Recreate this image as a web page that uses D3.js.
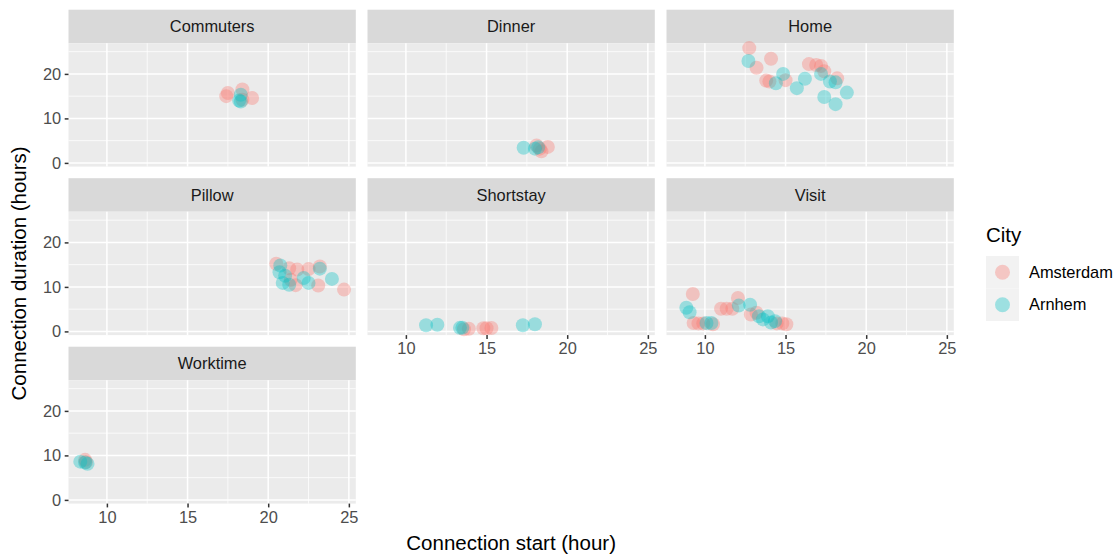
<!DOCTYPE html>
<html>
<head>
<meta charset="utf-8">
<script src="https://cdn.jsdelivr.net/npm/d3@7"></script>
<style>
  html, body { margin: 0; padding: 0; background: #ffffff; }
  svg { display: block; font-family: "Liberation Sans", Arial, Helvetica, sans-serif; }
</style>
</head>
<body>
<svg id="chart" width="1117" height="556"></svg>
<script>
// Facet panels, in reading order
const facets = ["Commuters", "Dinner", "Home", "Pillow", "Shortstay", "Visit", "Worktime"];
const cities = ["Amsterdam", "Arnhem"];
const cityColors = ["#F8766D", "#00BFC4"];

const xTicks = [10, 15, 20, 25];
const yTicks = [0, 10, 20];

// [facet, connection start (hour), connection duration (hours)]
const amsterdam = [
  ["Commuters", 17.4, 15.0], ["Commuters", 17.5, 15.7], ["Commuters", 18.4, 16.5],
  ["Commuters", 19.0, 14.6], ["Commuters", 18.4, 14.2],
  ["Dinner", 18.1, 3.9], ["Dinner", 18.4, 2.6], ["Dinner", 18.8, 3.6], ["Dinner", 18.3, 3.2],
  ["Home", 12.75, 25.8], ["Home", 14.1, 23.4], ["Home", 13.2, 21.4], ["Home", 13.8, 18.5],
  ["Home", 14.0, 18.3], ["Home", 15.0, 18.6], ["Home", 16.45, 22.2], ["Home", 16.9, 22.0],
  ["Home", 17.2, 21.8], ["Home", 17.4, 20.6], ["Home", 18.2, 19.0],
  ["Pillow", 20.5, 15.2], ["Pillow", 21.3, 14.2], ["Pillow", 21.8, 13.9], ["Pillow", 22.5, 14.0],
  ["Pillow", 23.2, 14.6], ["Pillow", 24.7, 9.4], ["Pillow", 23.1, 10.3], ["Pillow", 21.7, 10.4],
  ["Pillow", 21.4, 11.6],
  ["Shortstay", 13.6, 0.5], ["Shortstay", 13.9, 0.6], ["Shortstay", 14.8, 0.7],
  ["Shortstay", 15.0, 0.7], ["Shortstay", 15.3, 0.75],
  ["Visit", 9.25, 8.4], ["Visit", 9.3, 1.9], ["Visit", 9.6, 1.8], ["Visit", 9.9, 1.8],
  ["Visit", 10.5, 1.6], ["Visit", 11.0, 5.1], ["Visit", 11.35, 5.1], ["Visit", 11.7, 5.1],
  ["Visit", 12.05, 7.5], ["Visit", 12.85, 3.8], ["Visit", 13.2, 4.2], ["Visit", 14.45, 1.8],
  ["Visit", 14.8, 1.8], ["Visit", 15.05, 1.6],
  ["Worktime", 8.65, 9.0], ["Worktime", 8.7, 8.5]
];

const arnhem = [
  ["Commuters", 18.3, 15.3], ["Commuters", 18.3, 13.8], ["Commuters", 18.2, 14.0],
  ["Dinner", 17.3, 3.4], ["Dinner", 18.2, 3.5], ["Dinner", 18.0, 3.2],
  ["Home", 12.7, 22.9], ["Home", 14.4, 17.9], ["Home", 14.85, 20.0], ["Home", 15.7, 16.8],
  ["Home", 16.2, 18.9], ["Home", 17.2, 20.0], ["Home", 17.4, 14.8], ["Home", 17.75, 18.3],
  ["Home", 18.1, 18.1], ["Home", 18.1, 13.2], ["Home", 18.8, 15.8],
  ["Pillow", 20.75, 14.8], ["Pillow", 20.7, 13.3], ["Pillow", 23.2, 14.1], ["Pillow", 23.95, 11.8],
  ["Pillow", 22.5, 10.9], ["Pillow", 22.2, 12.0], ["Pillow", 20.9, 10.9], ["Pillow", 21.3, 10.5],
  ["Pillow", 21.05, 12.5],
  ["Shortstay", 11.25, 1.4], ["Shortstay", 11.95, 1.5], ["Shortstay", 13.35, 0.8],
  ["Shortstay", 13.5, 0.8], ["Shortstay", 17.25, 1.4], ["Shortstay", 18.0, 1.6],
  ["Visit", 8.85, 5.3], ["Visit", 9.05, 4.3], ["Visit", 10.1, 1.9], ["Visit", 10.4, 1.9],
  ["Visit", 12.1, 5.8], ["Visit", 12.8, 6.0], ["Visit", 13.35, 3.4], ["Visit", 13.6, 2.7],
  ["Visit", 13.9, 3.4], ["Visit", 14.1, 2.0], ["Visit", 14.35, 2.3],
  ["Worktime", 8.35, 8.6], ["Worktime", 8.8, 8.1], ["Worktime", 8.65, 8.4]
];

const seriesData = [amsterdam, arnhem];

// Layout of the facet grid
const nCols = 3;
const panelLeft = 68.5, panelTop = 43.2;
const panelW = 287.3, panelH = 123.4;
const colPitch = 299, rowPitch = 168.5;
const stripH = 33.5;

const baseFont = "16.4px", titleFont = "20.5px";
const tickLen = 3.8, pointR = 7;

const x = d3.scaleLinear().domain([7.62, 25.43]).range([0, panelW]);
const y = d3.scaleLinear().domain([-0.83, 26.9]).range([panelH, 0]);

const svg = d3.select("#chart");

const panelPos = (i) => ({
  col: i % nCols,
  row: Math.floor(i / nCols),
  x0: panelLeft + (i % nCols) * colPitch,
  y0: panelTop + Math.floor(i / nCols) * rowPitch
});

const nRows = Math.ceil(facets.length / nCols);

facets.forEach((name, i) => {
  const p = panelPos(i);
  const g = svg.append("g").attr("transform", `translate(${p.x0},${p.y0})`);

  // strip
  g.append("rect")
    .attr("x", 0).attr("y", -stripH).attr("width", panelW).attr("height", stripH)
    .attr("fill", "#D9D9D9");
  g.append("text")
    .attr("x", panelW / 2).attr("y", -stripH / 2)
    .attr("dy", "0.35em")
    .attr("text-anchor", "middle")
    .attr("font-size", baseFont)
    .attr("fill", "#1A1A1A")
    .text(name);

  // panel background
  g.append("rect")
    .attr("width", panelW).attr("height", panelH)
    .attr("fill", "#EBEBEB");

  // minor grid
  const xMinor = [7.5, 12.5, 17.5, 22.5].filter(v => v >= x.domain()[0] && v <= x.domain()[1]);
  const yMinor = [5, 15, 25];
  g.selectAll(".xminor").data(xMinor).enter().append("line")
    .attr("x1", d => x(d)).attr("x2", d => x(d))
    .attr("y1", 0).attr("y2", panelH)
    .attr("stroke", "#ffffff").attr("stroke-width", 0.75);
  g.selectAll(".yminor").data(yMinor).enter().append("line")
    .attr("y1", d => y(d)).attr("y2", d => y(d))
    .attr("x1", 0).attr("x2", panelW)
    .attr("stroke", "#ffffff").attr("stroke-width", 0.75);

  // major grid
  g.selectAll(".xmajor").data(xTicks).enter().append("line")
    .attr("x1", d => x(d)).attr("x2", d => x(d))
    .attr("y1", 0).attr("y2", panelH)
    .attr("stroke", "#ffffff").attr("stroke-width", 1.5);
  g.selectAll(".ymajor").data(yTicks).enter().append("line")
    .attr("y1", d => y(d)).attr("y2", d => y(d))
    .attr("x1", 0).attr("x2", panelW)
    .attr("stroke", "#ffffff").attr("stroke-width", 1.5);

  // points
  seriesData.forEach((rows, k) => {
    g.selectAll(".pt" + k).data(rows.filter(r => r[0] === name)).enter().append("circle")
      .attr("cx", d => x(d[1]))
      .attr("cy", d => y(d[2]))
      .attr("r", pointR)
      .attr("fill", cityColors[k])
      .attr("fill-opacity", 0.35);
  });

  // y axis on first column
  if (p.col === 0) {
    const ay = g.append("g").call(d3.axisLeft(y).tickValues(yTicks).tickSize(tickLen).tickPadding(3.5));
    ay.select(".domain").remove();
    ay.selectAll("line").attr("stroke", "#333333").attr("stroke-width", 1.5);
    ay.selectAll("text").attr("font-size", baseFont).attr("fill", "#4D4D4D")
      .attr("font-family", "'Liberation Sans', Arial, sans-serif");
  }

  // x axis on the lowest panel of each column
  const lowest = (p.row === nRows - 1) || (i + nCols >= facets.length);
  if (lowest) {
    const ax = g.append("g").attr("transform", `translate(0,${panelH})`)
      .call(d3.axisBottom(x).tickValues(xTicks).tickSize(tickLen).tickPadding(3.5));
    ax.select(".domain").remove();
    ax.selectAll("line").attr("stroke", "#333333").attr("stroke-width", 1.5);
    ax.selectAll("text").attr("font-size", baseFont).attr("fill", "#4D4D4D")
      .attr("font-family", "'Liberation Sans', Arial, sans-serif");
  }
});

// axis titles
const gridRight = panelLeft + (nCols - 1) * colPitch + panelW;
svg.append("text")
  .attr("x", (panelLeft + gridRight) / 2)
  .attr("y", 549.5)
  .attr("text-anchor", "middle")
  .attr("font-size", titleFont)
  .attr("fill", "#000000")
  .text("Connection start (hour)");

const gridBottom = panelTop + (nRows - 1) * rowPitch + panelH;
svg.append("text")
  .attr("transform", `translate(26,${(panelTop + gridBottom) / 2}) rotate(-90)`)
  .attr("text-anchor", "middle")
  .attr("font-size", titleFont)
  .attr("fill", "#000000")
  .text("Connection duration (hours)");

// legend
const legend = svg.append("g").attr("transform", "translate(986,222)");
legend.append("text")
  .attr("x", 0).attr("y", 19.7)
  .attr("font-size", titleFont)
  .attr("fill", "#000000")
  .text("City");
const keyH = 32.5, keyW = 33;
cities.forEach((c, k) => {
  const ky = 34 + k * keyH;
  legend.append("rect")
    .attr("x", 0).attr("y", ky).attr("width", keyW).attr("height", keyH)
    .attr("fill", "#F2F2F2");
  legend.append("circle")
    .attr("cx", keyW / 2).attr("cy", ky + keyH / 2)
    .attr("r", 7.5)
    .attr("fill", cityColors[k]).attr("fill-opacity", 0.35);
  legend.append("text")
    .attr("x", keyW + 10).attr("y", ky + keyH / 2)
    .attr("dy", "0.35em")
    .attr("font-size", baseFont)
    .attr("fill", "#000000")
    .text(c);
});
</script>
</body>
</html>
